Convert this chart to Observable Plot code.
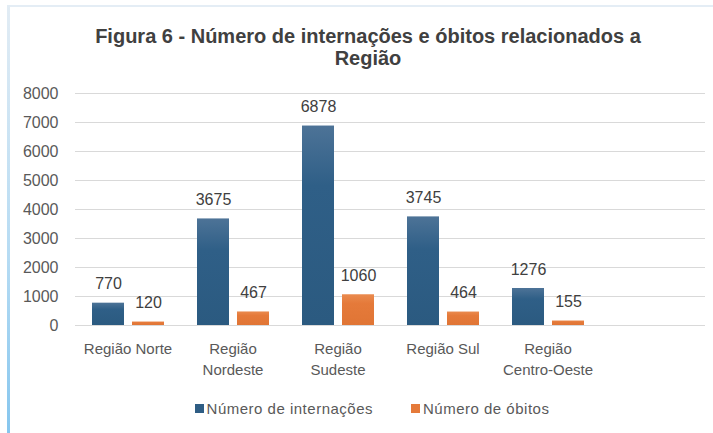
<!DOCTYPE html>
<html>
<head>
<meta charset="utf-8">
<script src="https://cdn.jsdelivr.net/npm/d3@7"></script>
<script src="https://cdn.jsdelivr.net/npm/@observablehq/plot@0.6"></script>
<style>
  html, body { margin: 0; padding: 0; background: #fff; }
  #wrap { position: relative; width: 713px; height: 433px; overflow: hidden; font-family: "Liberation Sans", Arial, sans-serif; }
  #frameTop { position: absolute; left: 7px; top: 5px; width: 706px; height: 2px; background: #e4edf5; }
  #frameLeft { position: absolute; left: 7px; top: 5px; width: 3px; height: 428px; background: linear-gradient(#e2ecf4, #b5dbf3 60%, #86c6ee); }
  #title { position: absolute; left: 0; top: 25px; width: 736px; text-align: center; font-weight: bold; font-size: 20px; line-height: 22px; color: #404040; }
  #chart { position: absolute; left: 0; top: 80px; }
  #legend { position: absolute; left: 0; top: 400px; width: 713px; display: flex; justify-content: center; gap: 38px; font-size: 15px; letter-spacing: 0.5px; color: #595959; padding-left: 31px; box-sizing: border-box; }
  .item { display: flex; align-items: center; gap: 3px; }
  .sw { width: 9px; height: 9px; display: inline-block; }
</style>
</head>
<body>
<div id="wrap">
  <div id="frameTop"></div>
  <div id="frameLeft"></div>
  <div id="title">Figura 6 - Número de internações e óbitos relacionados a<br>Região</div>
  <div id="chart"></div>
  <div id="legend"></div>
</div>
<script>
const regions = ["Região Norte", "Região Nordeste", "Região Sudeste", "Região Sul", "Região Centro-Oeste"];
const regionLabels = ["Região Norte", "Região\nNordeste", "Região\nSudeste", "Região Sul", "Região\nCentro-Oeste"];
const series = ["Número de internações", "Número de óbitos"];
const internacoes = [770, 3675, 6878, 3745, 1276];
const obitos = [120, 467, 1060, 464, 155];
const yTicks = [0, 1000, 2000, 3000, 4000, 5000, 6000, 7000, 8000];
const seriesColors = ["#2e5d84", "#e57a3a"];

const data = [];
regions.forEach((r, i) => {
  data.push({region: r, series: series[0], value: internacoes[i]});
  data.push({region: r, series: series[1], value: obitos[i]});
});

const labelMap = new Map(regions.map((r, i) => [r, regionLabels[i]]));
const fxDomain = [...regions, ""];
// grid rows for every category slot (including the empty trailing slot)
const gridData = fxDomain.flatMap(r => yTicks.map(t => ({region: r, tick: t})));

const plot = Plot.plot({
  width: 713,
  height: 310,
  marginLeft: 75,
  marginRight: 8,
  marginTop: 13,
  marginBottom: 65,
  style: {fontFamily: "'Liberation Sans', Arial, sans-serif", background: "transparent"},
  fx: {domain: fxDomain, paddingInner: 0, paddingOuter: 0, axis: null},
  x: {domain: series, paddingInner: 0.2, paddingOuter: 0.41, axis: null},
  y: {domain: [0, 8000], axis: null},
  color: {domain: series, range: ["url(#gradBlue)", "url(#gradOrange)"]},
  marks: [
    Plot.ruleY(gridData, {fx: "region", y: "tick", stroke: "#d9d9d9", strokeWidth: 1}),
    Plot.axisY({ticks: yTicks, tickSize: 0, tickPadding: 17, fontSize: 16, color: "#595959", label: null, facetAnchor: "left", tickFormat: d => String(d)}),
    Plot.axisFx({domain: fxDomain, tickSize: 0, tickPadding: 14, fontSize: 15, color: "#595959", lineHeight: 1.4, label: null, tickFormat: d => labelMap.get(d) ?? "", anchor: "bottom"}),
    Plot.barY(data, {fx: "region", x: "series", y: "value", fill: "series"}),
    Plot.text(data, {fx: "region", x: "series", y: "value", text: d => String(d.value), dy: -19, fontSize: 16, fill: "#404040"})
  ]
});

const defs = d3.create("svg:defs");
defs.html(`
  <linearGradient id="gradBlue" x1="0" y1="0" x2="0" y2="1">
    <stop offset="0" stop-color="#4d7397"/>
    <stop offset="0.3" stop-color="#2f5f87"/>
    <stop offset="1" stop-color="#2b5a80"/>
  </linearGradient>
  <linearGradient id="gradOrange" x1="0" y1="0" x2="0" y2="1">
    <stop offset="0" stop-color="#ea8a4e"/>
    <stop offset="0.3" stop-color="#e57a3a"/>
    <stop offset="1" stop-color="#e07535"/>
  </linearGradient>`);
plot.insertBefore(defs.node(), plot.firstChild);
document.getElementById("chart").appendChild(plot);

const legend = d3.select("#legend");
series.forEach((s, i) => {
  const it = legend.append("div").attr("class", "item");
  it.append("span").attr("class", "sw").style("background", seriesColors[i]);
  it.append("span").text(s);
});
</script>
</body>
</html>
